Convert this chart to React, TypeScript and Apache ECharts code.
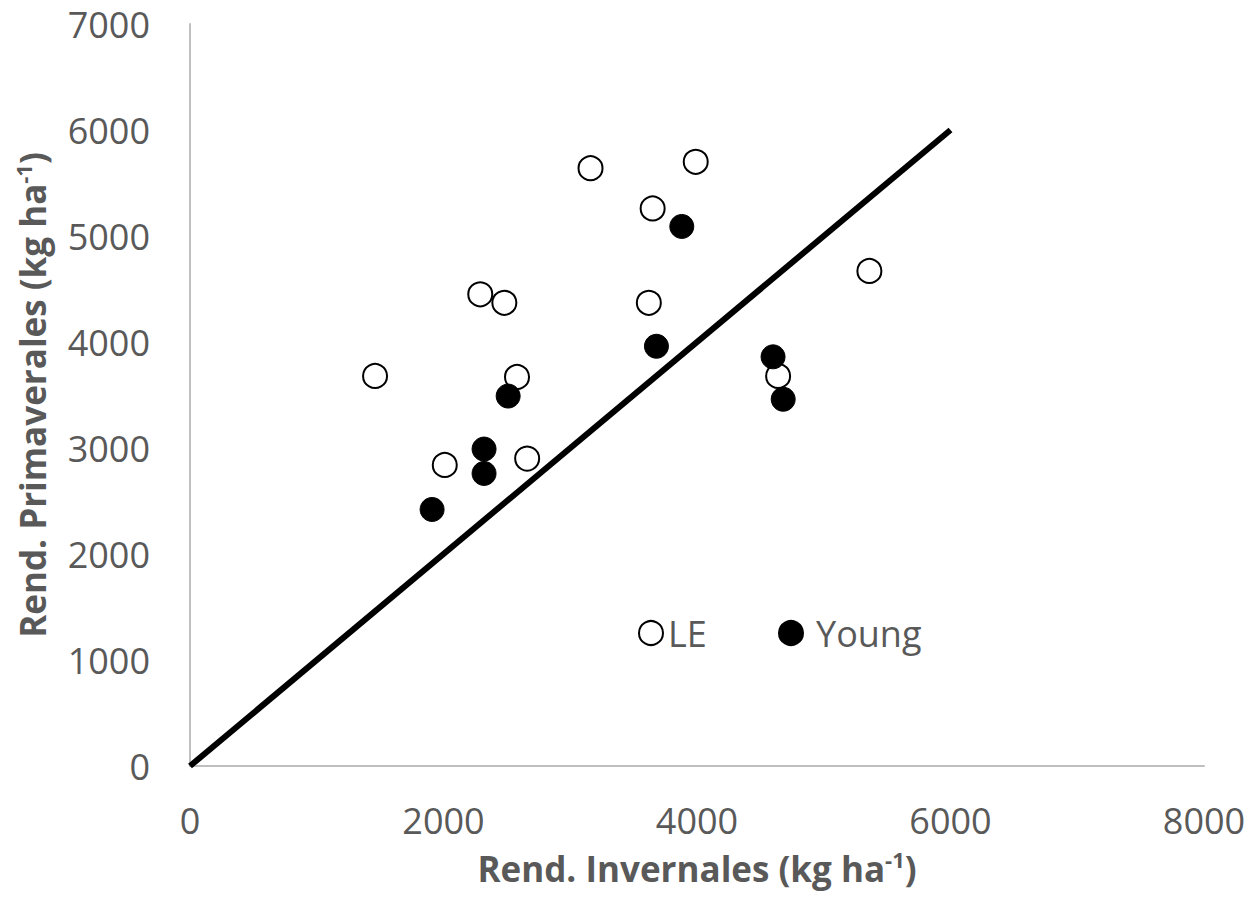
import React, { useEffect, useRef } from "react";
import * as echarts from "echarts";

const leData: [number, number][] = [
  [1460, 3680], [3160, 5640], [3990, 5700], [3650, 5260], [2290, 4450],
  [2480, 4370], [3620, 4370], [5360, 4670], [2580, 3670], [4640, 3680],
  [2010, 2840], [2660, 2900],
];
const youngData: [number, number][] = [
  [3880, 5090], [3680, 3960], [4600, 3860], [4680, 3460], [2510, 3490],
  [2320, 2990], [2320, 2760], [1910, 2420],
];
const lineData: [number, number][] = [[0, 0], [6000, 6000]];

const font = "'Open Sans', 'Noto Sans', sans-serif";
const gray = "#595959";

export default function App() {
  const ref = useRef<HTMLDivElement>(null);
  useEffect(() => {
    const chart = echarts.init(ref.current!, null, { renderer: "svg" });
    const rich = {
      b: { fontSize: 35, fontWeight: "bold", color: gray, fontFamily: font, lineHeight: 40 },
      s: { fontSize: 22, fontWeight: "bold", color: gray, fontFamily: font, verticalAlign: "top", lineHeight: 40, padding: [0, 0, 10, 0] },
    };
    const legendBase = {
      top: 610,
      itemWidth: 24,
      itemHeight: 24,
    };
    chart.setOption({
      animation: false,
      textStyle: { fontFamily: font },
      grid: { left: 190, right: 49, top: 24, bottom: 136, containLabel: false, outerBoundsMode: "none" },
      legend: [
        { ...legendBase, left: 633, data: ["LE"], textStyle: { fontSize: 36, color: gray, fontFamily: font } },
        { ...legendBase, left: 773, data: ["Young"], textStyle: { fontSize: 36, color: gray, fontFamily: font, padding: [0, 0, 0, 8] } },
      ],
      xAxis: {
        type: "value",
        min: 0,
        max: 8000,
        interval: 2000,
        splitLine: { show: false },
        axisTick: { show: false },
        axisLine: { show: true, lineStyle: { color: "#BFBFBF", width: 2 } },
        axisLabel: { fontSize: 36, color: gray, margin: 36, lineHeight: 36, fontFamily: font, formatter: (v: number) => String(v) },
        name: "{b|Rend. Invernales (kg ha}{s|-1}{b|)}",
        nameLocation: "middle",
        nameGap: 82,
        nameTextStyle: { rich },
      },
      yAxis: {
        type: "value",
        min: 0,
        max: 7000,
        interval: 1000,
        splitLine: { show: false },
        axisTick: { show: false },
        axisLine: { show: true, lineStyle: { color: "#BFBFBF", width: 2 } },
        axisLabel: { fontSize: 36, color: gray, margin: 40, fontFamily: font, formatter: (v: number) => String(v) },
        name: "{b|Rend. Primaverales (kg ha}{s|-1}{b|)}",
        nameLocation: "middle",
        nameGap: 138,
        nameRotate: 90,
        nameTextStyle: { rich },
      },
      series: [
        {
          name: "line",
          type: "line",
          data: lineData,
          showSymbol: false,
          symbol: "none",
          lineStyle: { color: "#000", width: 6 },
          z: 1,
        },
        {
          name: "LE",
          type: "scatter",
          data: leData,
          symbol: "circle",
          symbolSize: 24,
          itemStyle: { color: "#fff", borderColor: "#000", borderWidth: 2, opacity: 1 },
          z: 3,
        },
        {
          name: "Young",
          type: "scatter",
          data: youngData,
          symbol: "circle",
          symbolSize: 24,
          itemStyle: { color: "#000", borderColor: "#000", borderWidth: 1, opacity: 1 },
          z: 3,
        },
      ],
    });
    return () => chart.dispose();
  }, []);
  return <div ref={ref} style={{ width: 1253, height: 902, margin: -8 }} />;
}
